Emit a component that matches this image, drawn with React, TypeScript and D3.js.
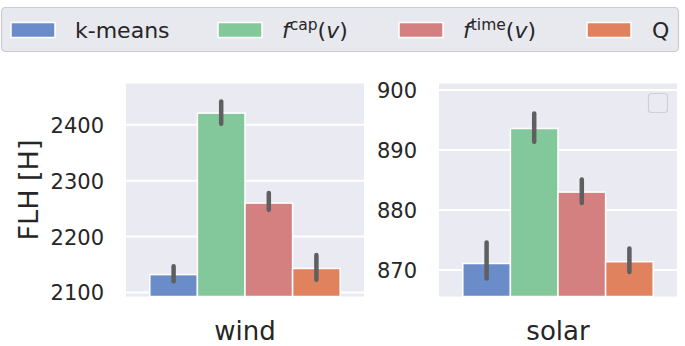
import React from "react";
import * as d3 from "d3";

const methods = ["k-means", "f_cap", "f_time", "Q"];
const colors = ["#6a8cc8", "#83c89a", "#d48081", "#e1825f"];

const windValues = [2132, 2421, 2260, 2143];
const windErrLo = [2120, 2402, 2248, 2123];
const windErrHi = [2147, 2442, 2278, 2167];
const windTicks = [2100, 2200, 2300, 2400];

const solarValues = [871.1, 893.6, 883.0, 871.4];
const solarErrLo = [868.6, 891.4, 881.2, 869.7];
const solarErrHi = [874.6, 896.1, 885.1, 873.6];
const solarTicks = [870, 880, 890, 900];

const W = 685;
const H = 346;
const FONT = "DejaVu Sans, sans-serif";
const TOP = 83.5;
const BOTTOM = 296.5;

type PanelProps = {
  x0: number;
  x1: number;
  domain: [number, number];
  category: string;
  values: number[];
  lo: number[];
  hi: number[];
  ticks: number[];
  showEmptyLegend?: boolean;
};

function Panel({ x0, x1, domain, category, values, lo, hi, ticks, showEmptyLegend }: PanelProps) {
  const y = d3.scaleLinear().domain(domain).range([BOTTOM, TOP]);
  const xCat = d3.scaleBand().domain([category]).range([x0, x1]).paddingOuter(0.1).paddingInner(0.2);
  const center = (xCat(category) as number) + xCat.bandwidth() / 2;
  const groupW = (x1 - x0) * 0.8;
  const xHue = d3
    .scaleBand()
    .domain(methods)
    .range([center - groupW / 2, center + groupW / 2]);
  return (
    <g>
      <rect x={x0} y={TOP} width={x1 - x0} height={BOTTOM - TOP} fill="#eaeaf2" />
      {ticks.map((t) => (
        <g key={t}>
          <line x1={x0} x2={x1} y1={y(t)} y2={y(t)} stroke="#ffffff" strokeWidth={2} />
          <text
            x={x0 - 22}
            y={y(t) + 1}
            textAnchor="end"
            dominantBaseline="central"
            fontSize={21}
            fontFamily={FONT}
            fill="#262626"
          >
            {t}
          </text>
        </g>
      ))}
      {methods.map((m, i) => (
        <rect
          key={m}
          x={xHue(m)}
          y={y(values[i])}
          width={xHue.bandwidth()}
          height={BOTTOM - y(values[i])}
          fill={colors[i]}
          stroke="#ffffff"
          strokeWidth={1.5}
        />
      ))}
      {methods.map((m, i) => (
        <line
          key={m + "e"}
          x1={(xHue(m) as number) + xHue.bandwidth() / 2}
          x2={(xHue(m) as number) + xHue.bandwidth() / 2}
          y1={y(lo[i])}
          y2={y(hi[i])}
          stroke="#5f5f5f"
          strokeWidth={4.5}
          strokeLinecap="round"
        />
      ))}
      <text
        x={center}
        y={340}
        textAnchor="middle"
        fontSize={26}
        fontFamily={FONT}
        fill="#262626"
      >
        {category}
      </text>
      {showEmptyLegend && (
        <rect x={648.5} y={93.5} width={19} height={19} rx={3} fill="#eaeaf2" stroke="#cfcfd4" strokeWidth={1.2} />
      )}
    </g>
  );
}

const legendSwatchX = [11, 218, 399, 587];
const legendTextX = [75, 282, 463, 652];

function LegendLabel({ m, x }: { m: string; x: number }) {
  const common = { fontFamily: FONT, fill: "#262626" };
  if (m === "f_cap" || m === "f_time") {
    const sup = m === "f_cap" ? "cap" : "time";
    return (
      <text x={x} y={37.5} fontSize={22} {...common}>
        <tspan fontStyle="italic">f</tspan>
        <tspan fontSize={15.5} dy={-8}>{sup}</tspan>
        <tspan dy={8}>(</tspan>
        <tspan fontStyle="italic">v</tspan>
        <tspan>)</tspan>
      </text>
    );
  }
  return (
    <text x={x} y={37.5} fontSize={22} {...common}>
      {m}
    </text>
  );
}

export default function App() {
  return (
    <svg
      width={W}
      height={H}
      style={{ position: "absolute", left: 0, top: 0, background: "#ffffff" }}
    >
      <rect x={0} y={0} width={W} height={H} fill="#ffffff" />
      <Panel
        x0={126}
        x1={364}
        domain={[2092.8, 2474]}
        category="wind"
        values={windValues}
        lo={windErrLo}
        hi={windErrHi}
        ticks={windTicks}
      />
      <Panel
        x0={439}
        x1={677}
        domain={[865.6, 901.1]}
        category="solar"
        values={solarValues}
        lo={solarErrLo}
        hi={solarErrHi}
        ticks={solarTicks}
        showEmptyLegend
      />
      <text
        transform={`translate(28,${(TOP + BOTTOM) / 2}) rotate(-90)`}
        textAnchor="middle"
        dominantBaseline="central"
        fontSize={27}
        fontFamily={FONT}
        fill="#262626"
      >
        FLH [H]
      </text>
      <rect x={1.5} y={7.5} width={677} height={44} rx={4} fill="#e8e8ef" stroke="#cccccc" strokeWidth={1.2} />
      {methods.map((m, i) => (
        <g key={m}>
          <rect
            x={legendSwatchX[i]}
            y={22.5}
            width={44}
            height={15}
            fill={colors[i]}
            stroke="#ffffff"
            strokeWidth={1.5}
          />
          <LegendLabel m={m} x={legendTextX[i]} />
        </g>
      ))}
    </svg>
  );
}
